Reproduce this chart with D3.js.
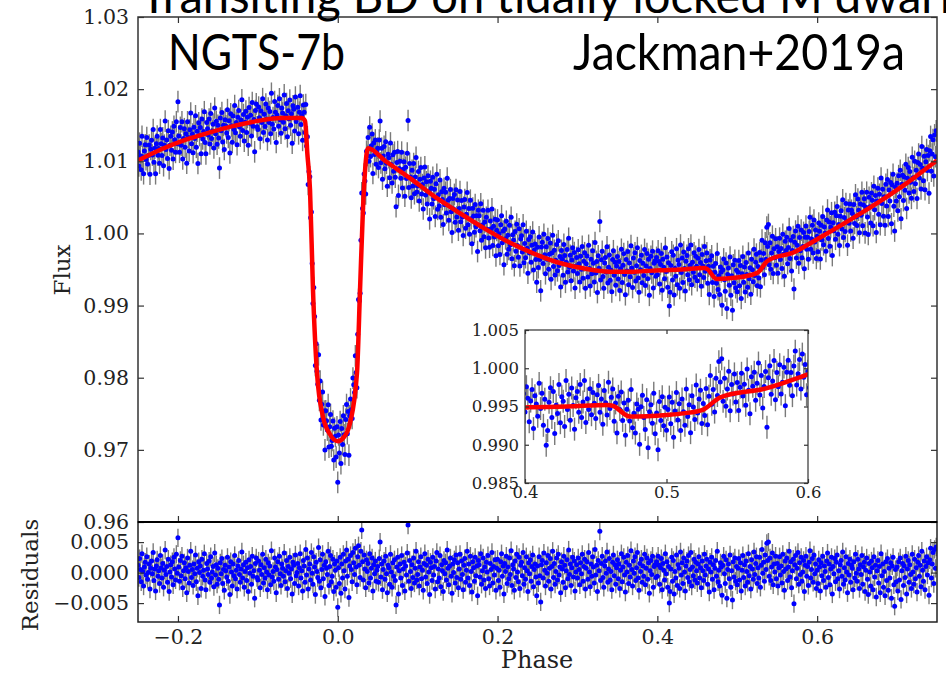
<!DOCTYPE html>
<html><head><meta charset="utf-8">
<script src="https://cdn.jsdelivr.net/npm/d3@7"></script>
<style>body{margin:0;background:#fff}svg{display:block}</style>
</head><body><svg id="c" width="946" height="675"></svg>
<script>
// ---------- data ----------
const phaseStart = -0.25, phaseStep = 0.001;
// residuals (data - model), units of 1e-4 flux, one per phase bin
const residuals = [
12,-8,23,5,-15,31,2,-22,9,17,-4,26,-11,0,14,-27,7,19,-2,33,-13,6,-30,11,21,-6,3,-18,28,8,-9,15,-24,4,37,-3,10,-16,22,-31,1,13,-7,18,-20,25,6,-12,30,-1,
57,9,-14,20,-5,27,-25,3,16,-10,8,-33,24,2,-17,12,35,-8,5,-21,14,-2,29,-15,7,-38,18,0,11,-26,22,-6,4,31,-12,-28,15,6,-3,19,-16,26,-9,1,10,-23,32,-4,13,-19,
7,-11,-53,16,-2,23,-18,5,-29,12,3,-7,25,-14,9,-36,18,1,-22,14,-5,28,-10,4,-27,11,20,-3,-16,6,34,-9,13,-24,2,17,-13,8,-31,21,-1,10,-19,27,-6,3,-42,15,24,-8,
-12,19,4,-25,13,-3,30,-17,8,-9,22,1,-28,16,-4,11,-20,36,-7,2,-14,24,9,-33,5,18,-11,27,-2,-21,14,7,-6,32,-15,3,20,-26,10,-1,25,-10,6,-35,17,12,-18,29,-5,0,
15,-22,8,31,-9,3,-30,20,11,-16,38,-4,24,-27,6,14,-12,33,-1,-19,26,9,-36,17,2,-8,41,-14,21,-25,5,30,-10,12,-39,18,7,-3,35,-21,10,28,-15,-6,22,-31,14,4,-24,19,
-57,8,-18,25,-34,14,-9,30,3,-27,19,37,-6,22,-41,11,28,5,-15,33,16,-3,40,9,-20,26,44,12,-8,35,70,18,-12,29,6,-25,21,2,15,-17,31,-9,7,24,-30,13,-2,19,-14,4,
10,-16,23,50,-7,14,-28,5,19,-11,27,-2,-33,12,8,-19,30,1,-24,16,-6,21,-13,-53,9,25,-35,3,14,-9,28,-21,6,17,-30,11,-4,32,78,-14,20,2,-26,13,-8,24,-17,7,35,-12,
-3,18,-22,9,26,-10,4,-29,15,31,-7,12,-18,22,1,-36,17,8,-13,25,-4,10,-27,19,33,-15,6,-9,28,-23,13,3,-31,20,-2,16,-12,37,7,-20,11,24,-6,-34,14,0,21,-17,29,-8,
16,-25,6,30,-11,19,-3,-28,12,23,-16,4,35,-9,14,-21,27,2,-32,18,8,-14,25,-5,11,-38,20,13,-7,31,-19,3,24,-12,9,-26,17,1,28,-10,-22,15,5,33,-17,10,-4,21,-29,7,
22,-13,4,-24,18,31,-6,11,-35,15,2,27,-18,9,-10,24,-3,36,-21,13,6,-29,19,-8,30,1,-15,25,-26,12,17,-5,33,-19,8,-11,26,3,-31,16,-2,21,-14,10,29,-23,5,14,-7,-38,
11,-17,26,-5,-48,13,20,-9,32,4,-22,16,-1,28,-14,7,23,-27,10,35,-8,15,-19,2,24,-12,30,-4,9,-33,18,6,-16,27,12,-25,3,21,-10,37,-3,14,-21,8,25,-7,19,-30,1,13,
-9,24,5,-20,16,-2,30,-14,10,22,-27,7,18,-11,33,1,-23,14,-6,26,9,-17,38,-4,12,-31,20,3,68,-13,15,27,-8,-24,11,19,-1,34,-16,6,23,-12,2,-28,17,29,-5,13,-19,8,
21,-10,14,-26,4,31,-15,9,25,-4,-32,17,1,28,-18,12,-7,36,5,-22,19,-1,26,-13,8,33,-9,-29,15,2,22,-16,11,-6,30,-20,7,24,-11,16,-34,3,20,-3,27,-24,10,13,-8,18,
-6,27,12,-19,8,23,-28,15,4,-12,31,-2,18,-24,10,-50,-31,6,25,-14,20,-35,2,-9,29,-21,13,7,-26,34,-4,16,-18,24,1,-30,11,19,-8,28,-15,5,33,-22,9,-5,22,-12,17,3,
-17,14,26,-9,8,-25,19,3,-13,30,-4,11,22,-19,6,-32,17,1,25,-11,13,-28,7,20,-6,35,-15,4,-22,16,9,-37,12,27,-2,-18,21,-42,5,14,-10,29,-24,3,-45,18,-7,24,-14,10,
-20,7,23,-12,16,-30,4,28,-8,13,-22,19,2,-16,31,-5,10,-27,21,6,-11,34,-3,15,26,-18,8,-9,25,-24,12,38,-1,17,-14,29,5,48,20,50,-6,24,-13,9,32,-20,14,1,27,-10,
15,-22,8,26,-4,11,-17,30,2,-29,19,6,24,-13,9,35,-7,18,-25,3,22,-51,13,28,-10,7,33,-19,16,-3,25,-14,1,20,-31,12,27,-6,10,-21,17,36,-9,5,23,-16,29,-2,14,-26,
4,-18,21,9,-30,16,-5,27,-13,11,2,-24,19,32,-8,14,-20,6,25,-35,10,-2,23,-15,17,29,-10,3,-27,13,20,-6,34,-19,8,-12,26,1,-33,15,-4,22,-16,12,7,-28,18,-9,30,-1,
-14,22,6,-26,13,-3,28,-19,9,17,-31,4,24,-11,-36,15,1,-22,19,8,-28,26,-7,12,-40,3,20,-17,10,-33,31,-5,14,-24,2,-38,18,-13,23,-29,7,-9,16,-42,11,25,-20,-55,5,-15,
9,-30,18,-12,24,-44,3,15,-21,11,-8,27,-35,6,20,-16,13,-3,-26,30,1,-19,22,-10,8,-32,17,28,-6,12,-23,35,4,-14,19,-28,10,26,-4,16,-37,21,40,-9,14,33,-18,38,7,42
];
// best-fit model (phase, flux)
const modelPhase = [-0.25,-0.22,-0.19,-0.16,-0.13,-0.10,-0.07,-0.045,-0.041,-0.038,-0.0347,-0.031,-0.026,-0.0185,-0.010,0.000,0.008,0.0153,0.0241,0.0279,0.0316,0.0379,0.06,0.09,0.12,0.153,0.185,0.2156,0.25,0.278,0.31,0.3407,0.37,0.403,0.43,0.458,0.462,0.474,0.50,0.512,0.526,0.538,0.571,0.60,0.637,0.675,0.71,0.7475,0.75];
const modelFlux  = [1.0101,1.0117,1.0130,1.0140,1.0149,1.0156,1.0160,1.0160,1.0156,1.0110,1.0060,0.9922,0.9807,0.9746,0.9722,0.9712,0.9718,0.9737,0.9807,0.9922,1.0035,1.0118,1.0100,1.0077,1.0052,1.0028,1.0006,0.9987,0.9970,0.9959,0.9951,0.9947,0.9947,0.9949,0.9950,0.9952,0.9951,0.9937,0.9939,0.9941,0.9946,0.9962,0.9974,0.9992,1.0016,1.0042,1.0068,1.0099,1.0101];
const errBar = 0.0015;
const mainYTicks = [0.96,0.97,0.98,0.99,1.00,1.01,1.02,1.03];
const xTicks = [-0.2,0.0,0.2,0.4,0.6];
const resTicks = [-0.005,0.000,0.005];
const insetXTicks = [0.4,0.5,0.6];
const insetYTicks = [0.985,0.990,0.995,1.000,1.005];
const titleText = "Transiting BD on tidally locked M dwarf";
const leftLabel = "NGTS-7b", rightLabel = "Jackman+2019a";

// ---------- layout ----------
const L=138, R=937, T=17, B=522, RB=622;
const IL=525, IR=808, IT=330, IB=483;
const serif = "'DejaVu Serif', serif";
const svg = d3.select("#c");

const x  = d3.scaleLinear().domain([-0.25,0.75]).range([L,R]);
const y  = d3.scaleLinear().domain([0.96,1.03]).range([B,T]);
const yr = d3.scaleLinear().domain([-0.0081,0.0083]).range([RB,B]);
const xi = d3.scaleLinear().domain([0.4,0.6]).range([IL,IR]);
const yi = d3.scaleLinear().domain([0.985,1.005]).range([IB,IT]);
const model = d3.scaleLinear().domain(modelPhase).range(modelFlux);
const knots = modelPhase.map((p,i)=>[p,modelFlux[i]]);

const data = residuals.map((r,i)=>{
  const p = phaseStart + i*phaseStep, res = r*1e-4;
  return {p, res, f: model(p)+res};
});

const defs = svg.append("defs");
function clip(id,x0,y0,w,h){defs.append("clipPath").attr("id",id).append("rect").attr("x",x0).attr("y",y0).attr("width",w).attr("height",h);}
clip("cm",L,T,R-L,B-T); clip("cr",L,B,R-L,RB-B); clip("ci",IL,IT,IR-IL,IB-IT);

function drawPoints(g, pts, sx, sy, val){
  g.append("g").selectAll("line").data(pts).join("line")
    .attr("x1",d=>sx(d.p)).attr("x2",d=>sx(d.p))
    .attr("y1",d=>sy(val(d)-errBar)).attr("y2",d=>sy(val(d)+errBar))
    .attr("stroke","#7a7a7a").attr("stroke-width",1.4);
  g.append("g").selectAll("circle").data(pts).join("circle")
    .attr("cx",d=>sx(d.p)).attr("cy",d=>sy(val(d))).attr("r",2.5).attr("fill","#0000ff");
}

// main panel
const gm = svg.append("g").attr("clip-path","url(#cm)");
drawPoints(gm, data, x, y, d=>d.f);
gm.append("path").datum(knots)
  .attr("d", d3.line().x(d=>x(d[0])).y(d=>y(d[1])).curve(d3.curveMonotoneX))
  .attr("fill","none").attr("stroke","#ff0000").attr("stroke-width",4.5);

// residual panel
const gr = svg.append("g").attr("clip-path","url(#cr)");
drawPoints(gr, data, x, yr, d=>d.res);

// inset
svg.append("rect").attr("x",IL).attr("y",IT).attr("width",IR-IL).attr("height",IB-IT).attr("fill","#fff");
const gi = svg.append("g").attr("clip-path","url(#ci)");
drawPoints(gi, data.filter(d=>d.p>=0.395&&d.p<=0.605), xi, yi, d=>d.f);
gi.append("path").datum(knots.filter(d=>d[0]>=0.3&&d[0]<=0.7))
  .attr("d", d3.line().x(d=>xi(d[0])).y(d=>yi(d[1])).curve(d3.curveMonotoneX))
  .attr("fill","none").attr("stroke","#ff0000").attr("stroke-width",4.5);

// axes helper
function styleAxis(g,size){
  g.select(".domain").remove();
  g.selectAll(".tick line").attr("stroke","#333").attr("stroke-width",1.2);
  g.selectAll("text").attr("font-family",serif).attr("font-size",size).attr("fill","#222");
}
const ax = (g,axis,size)=>{g.call(axis); styleAxis(g,size); return g;};
const fs=20.5;

// main
ax(svg.append("g").attr("transform",`translate(${L},0)`),
   d3.axisLeft(y).tickValues(mainYTicks).tickFormat(d3.format(".2f")).tickSizeInner(-6).tickSizeOuter(0).tickPadding(9),fs);
ax(svg.append("g").attr("transform",`translate(${R},0)`),
   d3.axisRight(y).tickValues(mainYTicks).tickFormat("").tickSizeInner(-6).tickSizeOuter(0),fs);
ax(svg.append("g").attr("transform",`translate(0,${T})`),
   d3.axisTop(x).tickValues(xTicks).tickFormat("").tickSizeInner(-6).tickSizeOuter(0),fs);
ax(svg.append("g").attr("transform",`translate(0,${B})`),
   d3.axisBottom(x).tickValues(xTicks).tickFormat("").tickSizeInner(-6).tickSizeOuter(0),fs);
// residuals
ax(svg.append("g").attr("transform",`translate(${L},0)`),
   d3.axisLeft(yr).tickValues(resTicks).tickFormat(d3.format(".3f")).tickSizeInner(-6).tickSizeOuter(0).tickPadding(9),fs);
ax(svg.append("g").attr("transform",`translate(${R},0)`),
   d3.axisRight(yr).tickValues(resTicks).tickFormat("").tickSizeInner(-6).tickSizeOuter(0),fs);
ax(svg.append("g").attr("transform",`translate(0,${RB})`),
   d3.axisBottom(x).tickValues(xTicks).tickFormat(d3.format(".1f")).tickSizeInner(-6).tickSizeOuter(0).tickPadding(7),fs);
// inset
ax(svg.append("g").attr("transform",`translate(${IL},0)`),
   d3.axisLeft(yi).tickValues(insetYTicks).tickFormat(d3.format(".3f")).tickSizeInner(-4).tickSizeOuter(0).tickPadding(6),16.5);
ax(svg.append("g").attr("transform",`translate(${IR},0)`),
   d3.axisRight(yi).tickValues(insetYTicks).tickFormat("").tickSizeInner(-4).tickSizeOuter(0),16.5);
ax(svg.append("g").attr("transform",`translate(0,${IB})`),
   d3.axisBottom(xi).tickValues(insetXTicks).tickFormat(d3.format(".1f")).tickSizeInner(-4).tickSizeOuter(0).tickPadding(3),16.5);
ax(svg.append("g").attr("transform",`translate(0,${IT})`),
   d3.axisTop(xi).tickValues(insetXTicks).tickFormat("").tickSizeInner(-4).tickSizeOuter(0),16.5);

// frames
svg.append("rect").attr("x",L).attr("y",T).attr("width",R-L).attr("height",B-T).attr("fill","none").attr("stroke","#333").attr("stroke-width",1.5);
svg.append("rect").attr("x",L).attr("y",B).attr("width",R-L).attr("height",RB-B).attr("fill","none").attr("stroke","#222").attr("stroke-width",1.5);
svg.append("line").attr("x1",L).attr("x2",R).attr("y1",B).attr("y2",B).attr("stroke","#000").attr("stroke-width",2);
svg.append("rect").attr("x",IL).attr("y",IT).attr("width",IR-IL).attr("height",IB-IT).attr("fill","none").attr("stroke","#333").attr("stroke-width",1.2);

// axis labels
svg.append("text").attr("transform","translate(70,270) rotate(-90)").attr("text-anchor","middle")
  .attr("font-family",serif).attr("font-size",23).attr("fill","#222").text("Flux");
svg.append("text").attr("transform","translate(38,575) rotate(-90)").attr("text-anchor","middle")
  .attr("font-family",serif).attr("font-size",23).attr("fill","#222").text("Residuals");
svg.append("text").attr("x",537).attr("y",668).attr("text-anchor","middle")
  .attr("font-family",serif).attr("font-size",24).attr("fill","#222").text("Phase");

// slide annotations
const sans = "Lato, 'Open Sans', sans-serif";
svg.append("text").attr("x",140).attr("y",13).attr("font-family",sans).attr("font-size",48)
  .attr("textLength",815).attr("lengthAdjust","spacingAndGlyphs").attr("fill","#000").text(titleText);
svg.append("text").attr("x",168).attr("y",70).attr("font-family",sans).attr("font-size",50)
  .attr("textLength",177).attr("lengthAdjust","spacingAndGlyphs").attr("fill","#000").text(leftLabel);
svg.append("text").attr("x",573).attr("y",70).attr("font-family",sans).attr("font-size",50)
  .attr("textLength",332).attr("lengthAdjust","spacingAndGlyphs").attr("fill","#000").text(rightLabel);
</script></body></html>
